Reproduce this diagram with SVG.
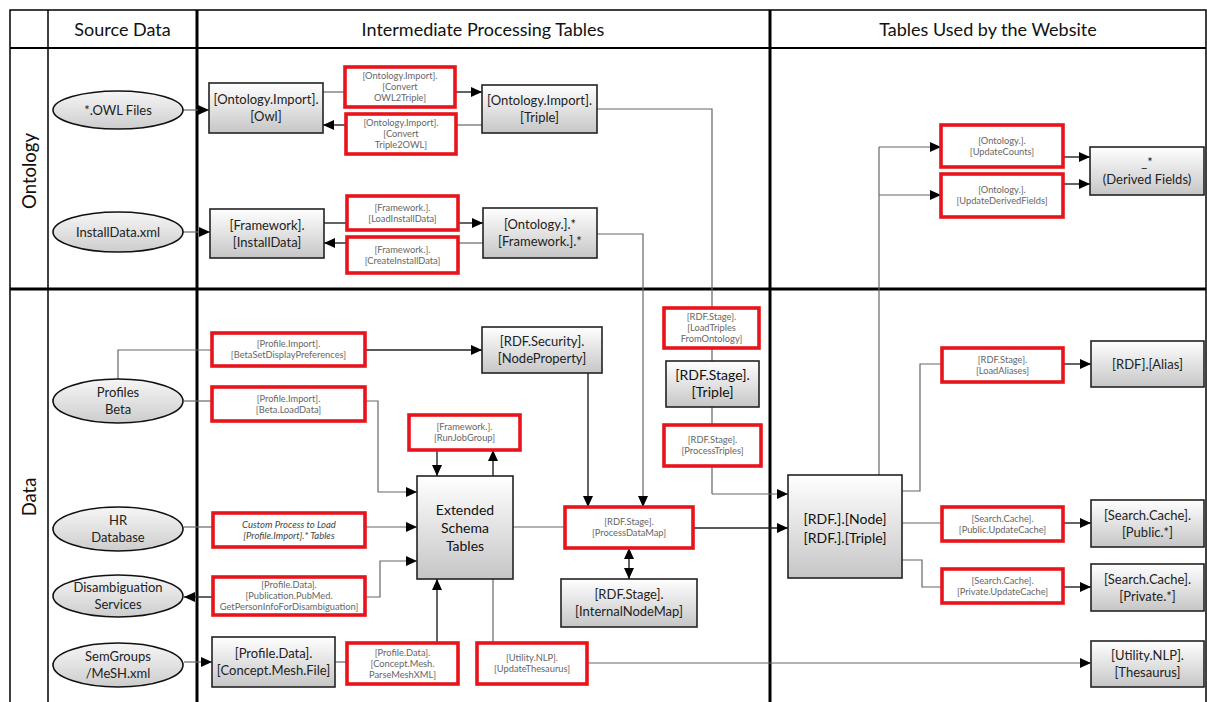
<svg xmlns="http://www.w3.org/2000/svg" width="1207" height="702" viewBox="0 0 1207 702">
<defs>
<linearGradient id="gBox" x1="0" y1="0" x2="0" y2="1"><stop offset="0" stop-color="#ffffff"/><stop offset="1" stop-color="#c6c6c6"/></linearGradient>
<linearGradient id="gEll" x1="0" y1="0" x2="0" y2="1"><stop offset="0" stop-color="#f6f6f6"/><stop offset="1" stop-color="#cdcdcd"/></linearGradient>
<marker id="ar" markerUnits="userSpaceOnUse" markerWidth="11" markerHeight="10" refX="11" refY="5" orient="auto-start-reverse" viewBox="0 0 11 10"><path d="M0,0 L11,5 L0,10 z" fill="#000"/></marker>
</defs>
<style>
.frame{fill:none;stroke:#000}
.box{fill:url(#gBox);stroke:#222;stroke-width:1.6}
.ell{fill:url(#gEll);stroke:#111;stroke-width:1.6}
.red{fill:#fff;stroke:#e8141b;stroke-width:3.6}
.ln{fill:none;stroke:#666;stroke-width:1.2}
.lk{fill:none;stroke:#222;stroke-width:1.4}
.arr{marker-end:url(#ar)}
.hd{font-family:Lato,"Liberation Sans",sans-serif;font-size:18px;fill:#111;text-anchor:middle}
.rl{font-family:Lato,"Liberation Sans",sans-serif;font-size:18.5px;fill:#111;text-anchor:middle}
.nt{font-family:Lato,"Liberation Sans",sans-serif;font-size:13px;fill:#222;text-anchor:middle}
.nb{font-family:Lato,"Liberation Sans",sans-serif;font-size:14px;fill:#111;text-anchor:middle}
.rt{font-family:Lato,"Liberation Sans",sans-serif;font-size:9.3px;fill:#666;text-anchor:middle}
.it{font-style:italic;font-size:9.5px;fill:#444}
</style>

<g id="frame">
<rect class="frame" x="10" y="10" width="1196" height="700" stroke-width="1.5"/>
<line class="frame" x1="10" y1="48" x2="1206" y2="48" stroke-width="2"/>
<line class="frame" x1="10" y1="289" x2="1206" y2="289" stroke-width="3"/>
<line class="frame" x1="48" y1="10" x2="48" y2="702" stroke-width="1.5"/>
<line class="frame" x1="197" y1="10" x2="197" y2="702" stroke-width="3"/>
<line class="frame" x1="770" y1="10" x2="770" y2="702" stroke-width="3"/>
<text class="hd" x="122.5" y="35.5">Source Data</text>
<text class="hd" x="483" y="35.5">Intermediate Processing Tables</text>
<text class="hd" x="988" y="35.5">Tables Used by the Website</text>
<text class="rl" transform="translate(36,171) rotate(-90)">Ontology</text>
<text class="rl" transform="translate(36,497) rotate(-90)">Data</text>
</g>

<g id="connectors">
<path class="ln arr" d="M183,110 H209"/>
<path class="ln" d="M323,92 H345"/>
<path class="lk arr" d="M455,92 H482"/>
<path class="ln" d="M482,125 H456"/>
<path class="lk arr" d="M346,125 H323"/>
<path class="ln arr" d="M183,232 H210"/>
<path class="lk" d="M324,223 H347"/>
<path class="lk arr" d="M458,223 H483"/>
<path class="ln" d="M483,243 H458"/>
<path class="lk arr" d="M347,243 H324"/>
<path class="ln" d="M597,109 H712 V494"/>
<path class="ln arr" d="M712,494 H788"/>
<path class="ln arr" d="M597,234 H643 V507"/>
<path class="ln" d="M879,475 V147"/>
<path class="ln arr" d="M879,147 H941"/>
<path class="ln arr" d="M879,195 H941"/>
<path class="lk arr" d="M1063,157 H1090"/>
<path class="lk arr" d="M1063,184 H1090"/>
<path class="ln" d="M118,379 V350 H212"/>
<path class="lk arr" d="M365,350 H482"/>
<path class="ln" d="M184,401 H212"/>
<path class="ln arr" d="M365,401 H378 V492 H417"/>
<path class="lk arr" d="M437,450 V476"/>
<path class="lk arr" d="M493,476 V450"/>
<path class="ln" d="M184,527 H213"/>
<path class="ln arr" d="M365,527 H417"/>
<path class="lk arr" d="M213,597 H184"/>
<path class="ln arr" d="M365,597 H380 V561 H417"/>
<path class="ln arr" d="M184,662 H212"/>
<path class="ln" d="M335,662 H347"/>
<path class="lk arr" d="M437,643 V579"/>
<path class="ln" d="M493,579 V643"/>
<path class="ln arr" d="M587,663 H1091"/>
<path class="lk arr" d="M588,373 V507"/>
<path class="ln" d="M513,527 H565"/>
<path class="lk arr" d="M693,528 H788"/>
<path class="lk" d="M629,548 V579" marker-start="url(#ar)" marker-end="url(#ar)"/>
<path class="ln" d="M902,491 H920 V364 H942"/>
<path class="lk arr" d="M1063,364 H1091"/>
<path class="ln" d="M902,523 H942"/>
<path class="lk arr" d="M1063,523 H1091"/>
<path class="ln" d="M902,560 H922 V587 H942"/>
<path class="lk arr" d="M1063,587 H1091"/>
</g>

<g id="n-owlfiles"><ellipse class="ell" cx="118" cy="110" rx="65" ry="19"/><text class="nt" x="118" y="114.5">*.OWL Files</text></g>
<g id="n-installxml"><ellipse class="ell" cx="118" cy="232" rx="65" ry="20"/><text class="nt" x="118" y="236.5">InstallData.xml</text></g>
<g id="n-profiles"><ellipse class="ell" cx="118" cy="401" rx="65" ry="22"/><text class="nt" x="118" y="397">Profiles<tspan x="118" dy="17">Beta</tspan></text></g>
<g id="n-hr"><ellipse class="ell" cx="118" cy="529" rx="65" ry="22"/><text class="nt" x="118" y="525">HR<tspan x="118" dy="17">Database</tspan></text></g>
<g id="n-disambig"><ellipse class="ell" cx="118" cy="596" rx="65" ry="21"/><text class="nt" x="118" y="592">Disambiguation<tspan x="118" dy="17">Services</tspan></text></g>
<g id="n-semgroups"><ellipse class="ell" cx="118" cy="665" rx="65" ry="22"/><text class="nt" x="118" y="661">SemGroups<tspan x="118" dy="17">/MeSH.xml</tspan></text></g>

<g id="n-owl"><rect class="box" x="209" y="83" width="114" height="50"/><text class="nt" x="266" y="104">[Ontology.Import].<tspan x="266" dy="17">[Owl]</tspan></text></g>
<g id="n-otriple"><rect class="box" x="482" y="85" width="115" height="48"/><text class="nt" x="539.5" y="105">[Ontology.Import].<tspan x="539.5" dy="17">[Triple]</tspan></text></g>
<g id="n-fwinstall"><rect class="box" x="210" y="209" width="114" height="49"/><text class="nt" x="267" y="229.5">[Framework].<tspan x="267" dy="17">[InstallData]</tspan></text></g>
<g id="n-ontfw"><rect class="box" x="483" y="208" width="114" height="50"/><text class="nt" x="540" y="229">[Ontology.].*<tspan x="540" dy="17">[Framework.].*</tspan></text></g>
<g id="n-derived"><rect class="box" x="1090" y="147" width="114" height="48"/><text class="nt" x="1147" y="167">_*<tspan x="1147" dy="17">(Derived Fields)</tspan></text></g>
<g id="n-nodeprop"><rect class="box" x="482" y="327" width="120" height="46"/><text class="nt" x="542" y="346">[RDF.Security].<tspan x="542" dy="17">[NodeProperty]</tspan></text></g>
<g id="n-stagetriple"><rect class="box" x="666" y="361" width="93" height="46"/><text class="nb" x="712.5" y="380">[RDF.Stage].<tspan x="712.5" dy="17">[Triple]</tspan></text></g>
<g id="n-extended"><rect class="box" x="417" y="476" width="96" height="103"/><text class="nb" x="465" y="514.5">Extended<tspan x="465" dy="18">Schema</tspan><tspan x="465" dy="18">Tables</tspan></text></g>
<g id="n-internalmap"><rect class="box" x="561" y="579" width="136" height="48"/><text class="nt" x="629" y="599">[RDF.Stage].<tspan x="629" dy="17">[InternalNodeMap]</tspan></text></g>
<g id="n-conceptmesh"><rect class="box" x="212" y="637" width="123" height="50"/><text class="nt" x="273.5" y="658">[Profile.Data].<tspan x="273.5" dy="17">[Concept.Mesh.File]</tspan></text></g>
<g id="n-rdfnode"><rect class="box" x="788" y="475" width="114" height="103"/><text class="nb" x="845" y="524" font-size="15">[RDF.].[Node]<tspan x="845" dy="19">[RDF.].[Triple]</tspan></text></g>
<g id="n-alias"><rect class="box" x="1091" y="341" width="113" height="46"/><text class="nt" x="1147.5" y="368.5">[RDF].[Alias]</text></g>
<g id="n-public"><rect class="box" x="1091" y="500" width="113" height="47"/><text class="nt" x="1147.5" y="519.5">[Search.Cache].<tspan x="1147.5" dy="17">[Public.*]</tspan></text></g>
<g id="n-private"><rect class="box" x="1091" y="564" width="113" height="47"/><text class="nt" x="1147.5" y="583.5">[Search.Cache].<tspan x="1147.5" dy="17">[Private.*]</tspan></text></g>
<g id="n-thesaurus"><rect class="box" x="1091" y="641" width="113" height="46"/><text class="nt" x="1147.5" y="660">[Utility.NLP].<tspan x="1147.5" dy="17">[Thesaurus]</tspan></text></g>

<g id="p-owl2triple"><rect class="red" x="345" y="67" width="110" height="40"/><text class="rt" x="400" y="79.4">[Ontology.Import].<tspan x="400" dy="11">[Convert</tspan><tspan x="400" dy="11">OWL2Triple]</tspan></text></g>
<g id="p-triple2owl"><rect class="red" x="346" y="114" width="110" height="40"/><text class="rt" x="401" y="126.4">[Ontology.Import].<tspan x="401" dy="11">[Convert</tspan><tspan x="401" dy="11">Triple2OWL]</tspan></text></g>
<g id="p-loadinstall"><rect class="red" x="347" y="196" width="111" height="34"/><text class="rt" x="402.5" y="210.9">[Framework.].<tspan x="402.5" dy="11">[LoadInstallData]</tspan></text></g>
<g id="p-createinstall"><rect class="red" x="347" y="237" width="111" height="36"/><text class="rt" x="402.5" y="252.9">[Framework.].<tspan x="402.5" dy="11">[CreateInstallData]</tspan></text></g>
<g id="p-updatecounts"><rect class="red" x="941" y="125" width="122" height="42"/><text class="rt" x="1002" y="143.9">[Ontology.].<tspan x="1002" dy="11">[UpdateCounts]</tspan></text></g>
<g id="p-updatederived"><rect class="red" x="941" y="174" width="122" height="43"/><text class="rt" x="1002" y="193.4">[Ontology.].<tspan x="1002" dy="11">[UpdateDerivedFields]</tspan></text></g>
<g id="p-betaset"><rect class="red" x="212" y="333" width="153" height="33"/><text class="rt" x="288.5" y="347.4">[Profile.Import].<tspan x="288.5" dy="11">[BetaSetDisplayPreferences]</tspan></text></g>
<g id="p-betaload"><rect class="red" x="212" y="387" width="153" height="34"/><text class="rt" x="288.5" y="401.9">[Profile.Import].<tspan x="288.5" dy="11">[Beta.LoadData]</tspan></text></g>
<g id="p-runjob"><rect class="red" x="409" y="415" width="111" height="35"/><text class="rt" x="464.5" y="430.4">[Framework.].<tspan x="464.5" dy="11">[RunJobGroup]</tspan></text></g>
<g id="p-loadtriples"><rect class="red" x="664" y="308" width="95" height="40"/><text class="rt" x="711.5" y="320.4">[RDF.Stage].<tspan x="711.5" dy="11">[LoadTriples</tspan><tspan x="711.5" dy="11">FromOntology]</tspan></text></g>
<g id="p-processtriples"><rect class="red" x="664" y="425" width="97" height="41"/><text class="rt" x="712.5" y="443.4">[RDF.Stage].<tspan x="712.5" dy="11">[ProcessTriples]</tspan></text></g>
<g id="p-custom"><rect class="red" x="213" y="513" width="152" height="34"/><text class="rt it" x="289" y="527.9">Custom Process to Load<tspan x="289" dy="11">[Profile.Import].* Tables</tspan></text></g>
<g id="p-disambig"><rect class="red" x="213" y="577" width="152" height="38"/><text class="rt" x="289" y="588.4">[Profile.Data].<tspan x="289" dy="11">[Publication.PubMed.</tspan><tspan x="289" dy="11">GetPersonInfoForDisambiguation]</tspan></text></g>
<g id="p-parsemesh"><rect class="red" x="347" y="643" width="111" height="41"/><text class="rt" x="402.5" y="655.9">[Profile.Data].<tspan x="402.5" dy="11">[Concept.Mesh.</tspan><tspan x="402.5" dy="11">ParseMeshXML]</tspan></text></g>
<g id="p-thesaurus"><rect class="red" x="477" y="643" width="110" height="41"/><text class="rt" x="532" y="661.4">[Utility.NLP].<tspan x="532" dy="11">[UpdateThesaurus]</tspan></text></g>
<g id="p-processdatamap"><rect class="red" x="565" y="507" width="128" height="41"/><text class="rt" x="629" y="525.4">[RDF.Stage].<tspan x="629" dy="11">[ProcessDataMap]</tspan></text></g>
<g id="p-loadaliases"><rect class="red" x="942" y="348" width="121" height="34"/><text class="rt" x="1002.5" y="362.9">[RDF.Stage].<tspan x="1002.5" dy="11">[LoadAliases]</tspan></text></g>
<g id="p-public"><rect class="red" x="942" y="507" width="121" height="34"/><text class="rt" x="1002.5" y="521.9">[Search.Cache].<tspan x="1002.5" dy="11">[Public.UpdateCache]</tspan></text></g>
<g id="p-private"><rect class="red" x="942" y="569" width="121" height="34"/><text class="rt" x="1002.5" y="583.9">[Search.Cache].<tspan x="1002.5" dy="11">[Private.UpdateCache]</tspan></text></g>
</svg>
